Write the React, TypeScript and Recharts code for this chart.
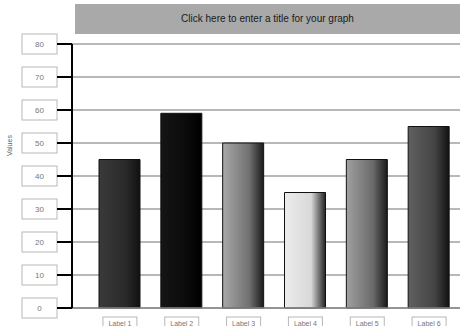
import React from 'react';
import { BarChart, Bar, XAxis, YAxis, CartesianGrid, Cell } from 'recharts';

const categories = ['Label 1', 'Label 2', 'Label 3', 'Label 4', 'Label 5', 'Label 6'];
const values = [45, 59, 50, 35, 45, 55];
const yTicks = [0, 10, 20, 30, 40, 50, 60, 70, 80];
const title = 'Click here to enter a title for your graph';

// left / mid / right shades for each bar's cylinder-ish gradient
const shades = [
  ['#3a3a3a', '#2a2a2a', '#111111'],
  ['#151515', '#0a0a0a', '#000000'],
  ['#a8a8a8', '#707070', '#1a1a1a'],
  ['#ececec', '#d8d8d8', '#222222'],
  ['#a0a0a0', '#6a6a6a', '#1a1a1a'],
  ['#606060', '#444444', '#111111'],
];

const data = categories.map((name, i) => ({ name, value: values[i] }));

const YTick = ({ y, payload }: any) => (
  <g>
    <rect x={22} y={y - 10} width={35} height={20} fill="#fff" stroke="#b8b8b8" strokeWidth={1} />
    <text x={39.5} y={y + 3} textAnchor="middle" fontSize={8} fill="#777">
      {payload.value}
    </text>
    <line x1={57} x2={72} y1={y} y2={y} stroke="#000" strokeWidth={2} />
  </g>
);

const XTick = ({ x, y, payload }: any) => (
  <g>
    <rect x={x - 17} y={y + 1} width={34} height={13} fill="#fff" stroke="#b8b8b8" strokeWidth={1} />
    <text x={x} y={y + 10} textAnchor="middle" fontSize={7} fill="#777">
      {payload.value}
    </text>
  </g>
);

const App = () => {
  return (
    <div style={{ position: 'absolute', left: 0, top: 0, width: 462, height: 326, background: '#fff', overflow: 'hidden' }}>
      <div
        style={{
          position: 'absolute',
          left: 75,
          top: 4,
          width: 385,
          height: 30,
          background: '#a9a9a9',
          color: '#1a1a1a',
          fontFamily: 'Arial, "Liberation Sans", sans-serif',
          fontSize: 10,
          lineHeight: '30px',
          textAlign: 'center',
        }}
      >
        {title}
      </div>
      <BarChart
        width={462}
        height={326}
        data={data}
        margin={{ top: 44, right: 2, left: 0, bottom: 0 }}
        barSize={41}
        style={{ fontFamily: 'Arial, "Liberation Sans", sans-serif' }}
      >
        <defs>
          {shades.map((s, i) => (
            <linearGradient key={i} id={`bar${i}`} x1="0" y1="0" x2="1" y2="0">
              <stop offset="0%" stopColor={s[0]} />
              <stop offset="65%" stopColor={s[1]} />
              <stop offset="100%" stopColor={s[2]} />
            </linearGradient>
          ))}
        </defs>
        <CartesianGrid vertical={false} stroke="#a0a0a0" strokeWidth={1.5} />
        <XAxis
          dataKey="name"
          height={18}
          padding={{ left: 17, right: 0 }}
          axisLine={{ stroke: '#888', strokeWidth: 1.5 }}
          tickLine={false}
          tick={<XTick />}
          interval={0}
        />
        <YAxis
          width={72}
          domain={[0, 80]}
          ticks={yTicks}
          axisLine={{ stroke: '#000', strokeWidth: 2 }}
          tickLine={false}
          tick={<YTick />}
          label={{ value: 'Values', angle: -90, position: 'insideLeft', offset: 10, dy: -20, style: { fontSize: 7, fill: '#666' } }}
        />
        <Bar dataKey="value" isAnimationActive={false} stroke="#111" strokeWidth={1}>
          {data.map((d, i) => (
            <Cell key={d.name} fill={`url(#bar${i})`} />
          ))}
        </Bar>
      </BarChart>
    </div>
  );
};

export default App;
